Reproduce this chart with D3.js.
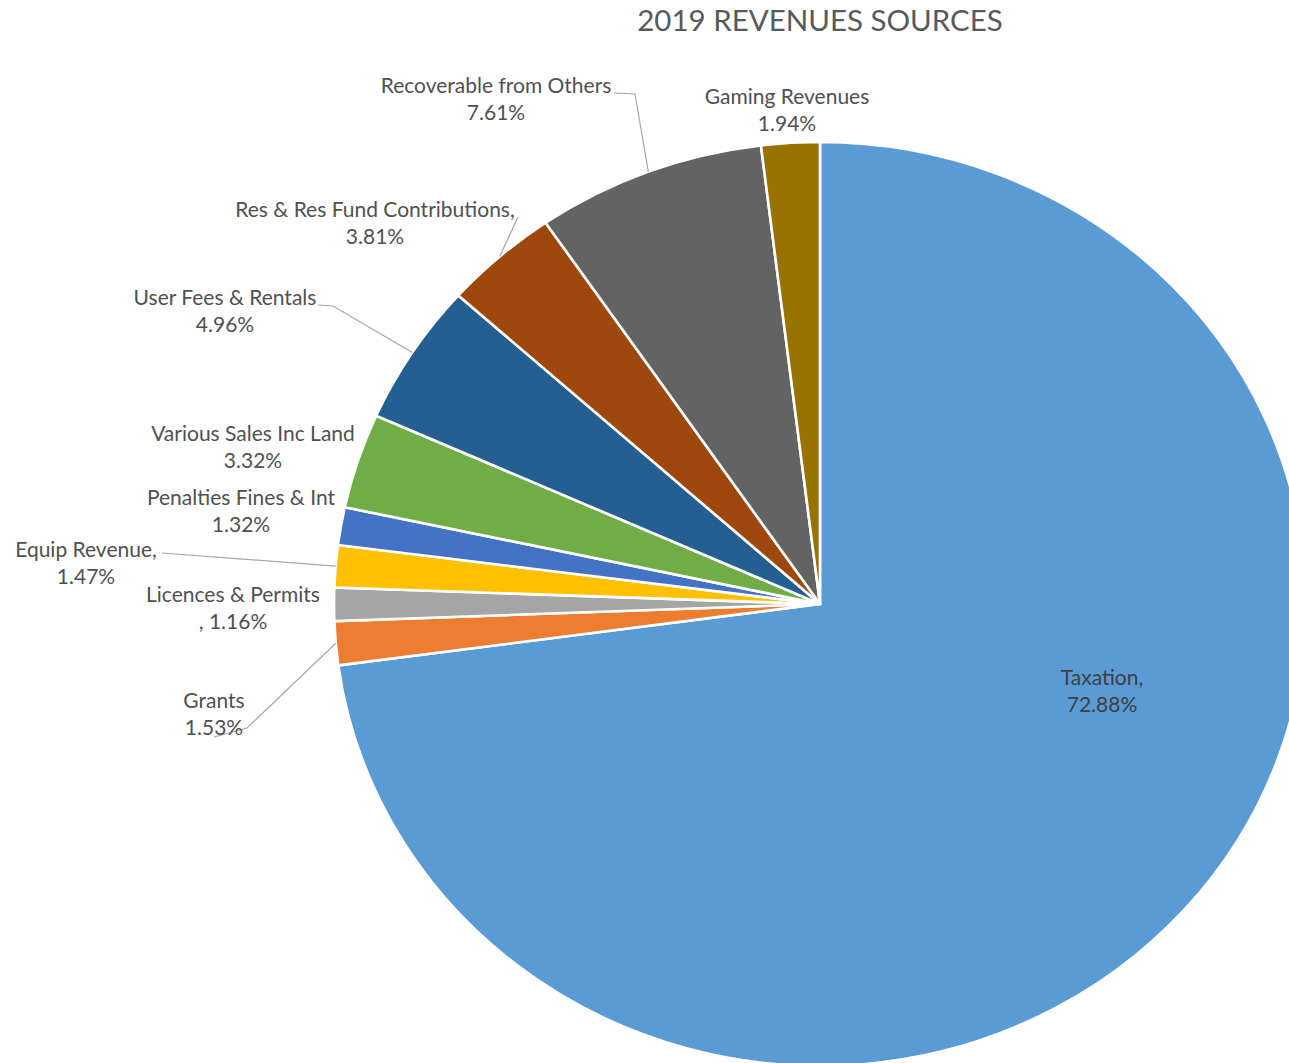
<!DOCTYPE html>
<html><head><meta charset="utf-8">
<script src="https://cdn.jsdelivr.net/npm/d3@7"></script>
<style>html,body{margin:0;padding:0;background:#fff;overflow:hidden}</style>
</head><body>
<svg id="chart" width="1289" height="1063"></svg>
<script>
// Revenue sources, in percent of total, clockwise from 12 o'clock
const categories = ["Taxation", "Grants", "Licences & Permits", "Equip Revenue",
  "Penalties Fines & Int", "Various Sales Inc Land", "User Fees & Rentals",
  "Res & Res Fund Contributions", "Recoverable from Others", "Gaming Revenues"];
const shares = [72.88, 1.53, 1.16, 1.47, 1.32, 3.32, 4.96, 3.81, 7.61, 1.94];
// how each label joins name and value: "comma" -> "Name,", "lead" -> ", 12%", "none"
const labelStyle = ["comma", "none", "lead", "comma", "none", "none", "none", "comma", "none", "none"];
const titleText = "2019 REVENUES SOURCES";

const colors = ["#5B9BD5", "#ED7D31", "#A5A5A5", "#FFC000", "#4472C4",
  "#70AD47", "#255E91", "#9E480E", "#636363", "#997300"];

// label placement (centre x, centre y of first line) and leader-line bends
const labelPos = [
  [1102, 678], [214, 701], [233, 595], [86, 550], [241, 498],
  [253, 434], [225, 298], [375, 210], [496, 86], [787, 97]
];
const leaderBends = [
  null, [[247, 728], [214, 737]], null, [[162, 553]], null,
  null, [[333, 306], [318, 305]], [[518, 217]], [[635, 94], [614, 93]], null
];

const W = 1289, H = 1063;
const cx = 820, cy = 604, ry = 462, rx = 486;
const FONT = "Lato, 'Open Sans', sans-serif";

const svg = d3.select("#chart");
const data = categories.map((c, i) => ({ name: c, value: shares[i], i }));

const pie = d3.pie().sort(null).value(d => d.value).startAngle(0).endAngle(2 * Math.PI);
const arcs = pie(data);
const arc = d3.arc().innerRadius(0).outerRadius(ry);

const g = svg.append("g")
  .attr("transform", `translate(${cx},${cy}) scale(${rx / ry},1)`);

g.selectAll("path.slice")
  .data(arcs)
  .join("path")
  .attr("class", "slice")
  .attr("d", arc)
  .attr("fill", d => colors[d.data.i])
  .attr("stroke", "#fff")
  .attr("stroke-width", 2.6)
  .attr("stroke-linejoin", "round")
  .attr("vector-effect", "non-scaling-stroke");

// leader lines from the slice rim (at mid-angle) to the label
const edgePoint = d => {
  const a = (d.startAngle + d.endAngle) / 2;
  return [cx + rx * Math.sin(a), cy - ry * Math.cos(a)];
};
const line = d3.line();
svg.append("g").selectAll("path.leader")
  .data(arcs.filter(d => leaderBends[d.data.i]))
  .join("path")
  .attr("class", "leader")
  .attr("d", d => line([edgePoint(d), ...leaderBends[d.data.i]]))
  .attr("fill", "none")
  .attr("stroke", "#a6a6a6")
  .attr("stroke-width", 1.2);

// data labels
const fmt = v => v.toFixed(2) + "%";
const labels = svg.append("g").selectAll("text.lbl")
  .data(arcs)
  .join("text")
  .attr("class", "lbl")
  .attr("text-anchor", "middle")
  .attr("font-family", FONT)
  .attr("font-size", 21)
  .attr("fill", d => d.data.i === 0 ? "#404040" : "#505050");

labels.each(function (d) {
  const i = d.data.i;
  const st = labelStyle[i];
  const l1 = st === "comma" ? d.data.name + "," : d.data.name;
  const l2 = st === "lead" ? ", " + fmt(d.data.value) : fmt(d.data.value);
  const [x, y] = labelPos[i];
  const t = d3.select(this);
  t.append("tspan").attr("x", x).attr("y", y).attr("dy", "0.35em").text(l1);
  t.append("tspan").attr("x", x).attr("y", y + 26.5).attr("dy", "0.35em").text(l2);
});

svg.append("text")
  .attr("x", 820).attr("y", 21).attr("dy", "0.35em")
  .attr("text-anchor", "middle")
  .attr("font-family", FONT)
  .attr("font-size", 29.5)
  .attr("fill", "#595959")
  .text(titleText);
</script>
</body></html>
